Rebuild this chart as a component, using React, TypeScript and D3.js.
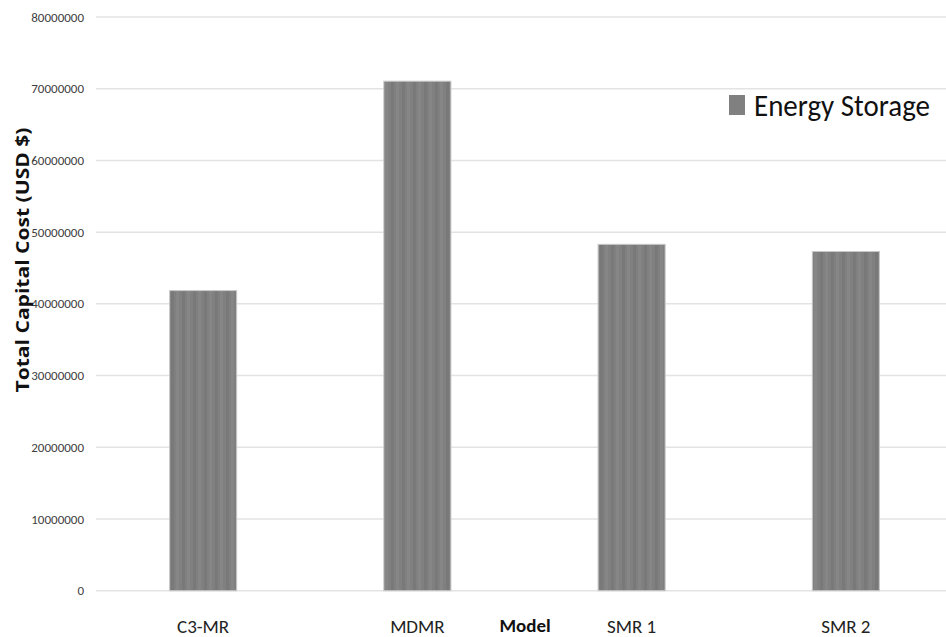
import React from "react";
import * as d3 from "d3";

const categories = ["C3-MR", "MDMR", "SMR 1", "SMR 2"];
const energyStorage = [41850000, 71050000, 48300000, 47300000];
const yTicks = [0, 10000000, 20000000, 30000000, 40000000, 50000000, 60000000, 70000000, 80000000];
const seriesName = "Energy Storage";
const xTitle = "Model";
const yTitle = "Total Capital Cost (USD $)";

const W = 946;
const H = 637;
const FONT = "Carlito, Calibri, Lato, 'Open Sans', sans-serif";
const TITLE_FONT = "'Open Sans', 'DejaVu Sans', sans-serif";

export default function App() {
  const x = d3
    .scaleBand<string>()
    .domain(categories)
    .range([96, 953])
    .paddingInner(0.687)
    .paddingOuter(0.3435);
  const y = d3.scaleLinear().domain([0, 80000000]).range([590.7, 17]);

  return (
    <svg
      width={W}
      height={H}
      style={{ position: "absolute", left: 0, top: 0, background: "#fff" }}
    >
      <defs>
        <pattern id="barStripes" patternUnits="userSpaceOnUse" width={11} height={10}>
          <rect width={11} height={10} fill="#808080" />
          <rect x={0} width={3} height={10} fill="#868686" />
          <rect x={6} width={3} height={10} fill="#797979" />
        </pattern>
      </defs>

      {/* gridlines */}
      {yTicks.map((t) => (
        <line
          key={t}
          x1={96}
          x2={W}
          y1={y(t)}
          y2={y(t)}
          stroke="#e3e3e3"
          strokeWidth={1.5}
        />
      ))}

      {/* tick labels */}
      {yTicks.map((t) => (
        <text
          key={"l" + t}
          x={84}
          y={y(t)}
          dy="0.35em"
          textAnchor="end"
          fontFamily={FONT}
          fontSize={13}
          fill="#404040"
        >
          {String(t)}
        </text>
      ))}

      {/* bars */}
      {categories.map((c, i) => (
        <rect
          key={c}
          x={x(c)}
          y={y(energyStorage[i])}
          width={x.bandwidth()}
          height={y(0) - y(energyStorage[i])}
          fill="url(#barStripes)"
          stroke="#c8c8c8"
          strokeWidth={1}
        />
      ))}

      {/* category labels */}
      {categories.map((c) => (
        <text
          key={"c" + c}
          x={(x(c) as number) + x.bandwidth() / 2}
          y={633}
          textAnchor="middle"
          fontFamily={FONT}
          fontSize={19}
          fill="#222"
        >
          {c}
        </text>
      ))}

      {/* axis titles */}
      <text
        x={525}
        y={632}
        textAnchor="middle"
        fontFamily={FONT}
        fontSize={19}
        fontWeight="bold"
        fill="#111"
      >
        {xTitle}
      </text>
      <text
        transform={`translate(29, 260) rotate(-90)`}
        textAnchor="middle"
        fontFamily={TITLE_FONT}
        fontSize={18}
        fontWeight="bold"
        fill="#111"
        textLength={265}
        lengthAdjust="spacingAndGlyphs"
      >
        {yTitle}
      </text>

      {/* legend */}
      <rect x={729} y={95} width={16} height={20} fill="#808080" />
      <text
        x={754}
        y={116}
        fontFamily={FONT}
        fontSize={30}
        fill="#111"
        textLength={176}
        lengthAdjust="spacingAndGlyphs"
      >
        {seriesName}
      </text>
    </svg>
  );
}
